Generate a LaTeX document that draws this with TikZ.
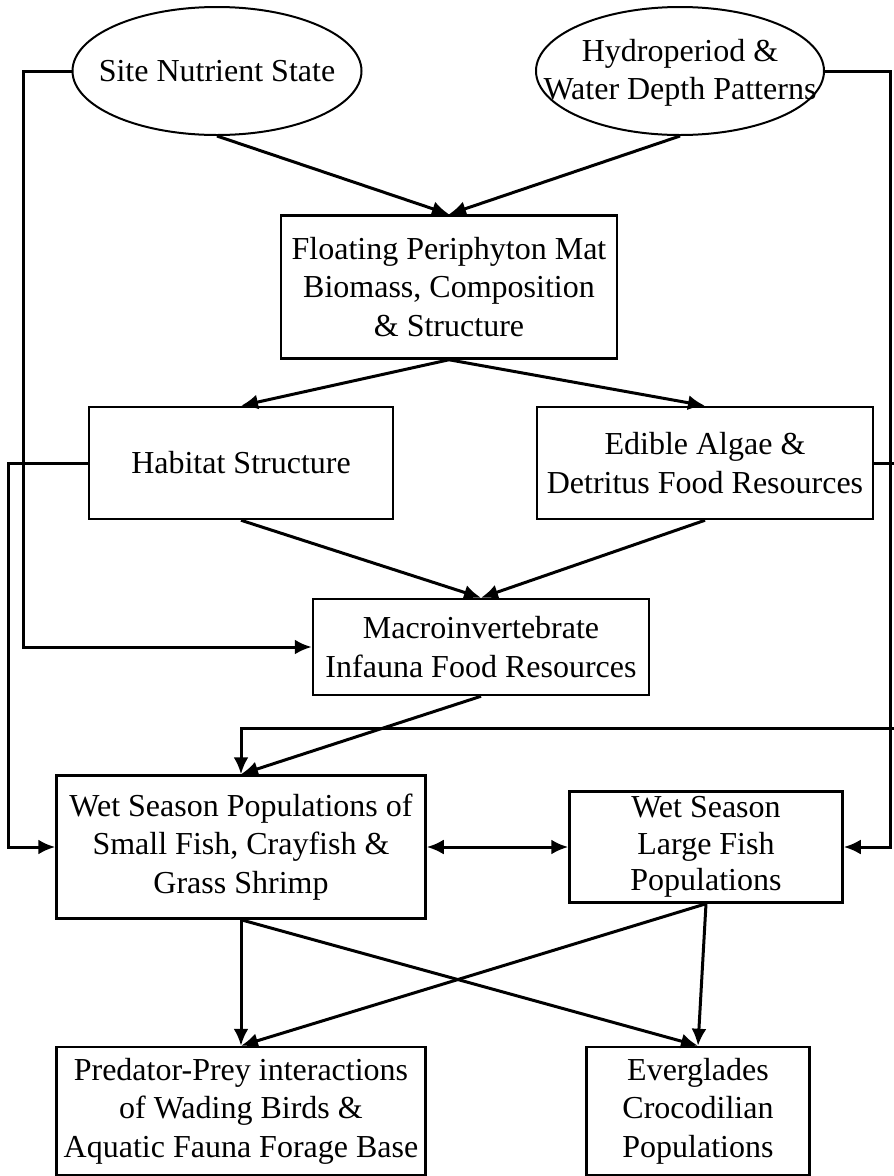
\documentclass[tikz,border=0pt]{standalone}
\usepackage{fontspec}
\setmainfont{Liberation Serif}
\usetikzlibrary{
    shapes.geometric,      % Ellipses for the drivers
    arrows.meta,           % Modern arrow tips
    calc                   % Coordinate calculations
}
\tikzset{
    driver/.style={draw,ellipse,line width=2pt,inner sep=0pt},
    drivertext/.style={inner sep=0pt,align=center,font=\fontsize{32}{38}\selectfont},
    factor/.style={draw,rectangle,line width=2.5pt,inner sep=0pt,align=center,
        font=\fontsize{32}{38.5}\selectfont},
    link/.style={line width=3pt,-{Latex[length=17pt,width=15pt]}},
    twoway/.style={line width=3pt,{Latex[length=17pt,width=15pt]}-{Latex[length=17pt,width=15pt]}}
}

\begin{document}
\begin{tikzpicture}[x=1pt,y=-1pt]
    \useasboundingbox (0,0) rectangle (894,1176);
    % drivers (text may run over the outline)
    \node[driver,minimum width=289pt,minimum height=128pt] (site) at (217,71) {};
    \node[drivertext] (sitetext) at (site) {Site Nutrient State};
    \node[driver,minimum width=288pt,minimum height=128pt] (hydro) at (680,71) {};
    \node[drivertext] (hydrotext) at (680,73) {Hydroperiod \&\\Water Depth Patterns};
    % boxes
    \node[factor,minimum width=336pt,minimum height=143pt] (mat) at (449,287) {Floating Periphyton Mat\\Biomass, Composition\\\& Structure};
    \node[factor,minimum width=304pt,minimum height=112pt] (habitat) at (241,463) {Habitat Structure};
    \node[factor,minimum width=336pt,minimum height=112pt] (algae) at (705,463) {Edible Algae \&\\Detritus Food Resources};
    \node[factor,minimum width=336pt,minimum height=96pt] (macro) at (481,647) {Macroinvertebrate\\Infauna Food Resources};
    \node[factor,minimum width=369pt,minimum height=143pt] (small) at (241,847) {Wet Season Populations of\\Small Fish, Crayfish \&\\Grass Shrimp};
    \node[factor,minimum width=273pt,minimum height=111pt,font=\fontsize{32}{36.5}\selectfont] (large) at (706,847) {Wet Season\\Large Fish\\Populations};
    \node[factor,minimum width=369pt,minimum height=128pt] (wading) at (241,1111) {Predator-Prey interactions\\of Wading Birds \&\\Aquatic Fauna Forage Base};
    \node[factor,minimum width=223pt,minimum height=128pt] (croc) at (698,1111) {Everglades\\Crocodilian\\Populations};

    % direct links
    \draw[link] (site.south) -- (mat.north);
    \draw[link] (hydro.south) -- (mat.north);
    \draw[link] (mat.south) -- (habitat.north);
    \draw[link] (mat.south) -- (algae.north);
    \draw[link] (habitat.south) -- (macro.north);
    \draw[link] (algae.south) -- (macro.north);
    \draw[link] (macro.south) -- (small.north);
    \draw[twoway] (small.east) -- (large.west);
    \draw[link] (small.south) -- (wading.north);
    \draw[link] (small.south) -- (croc.north);
    \draw[link] (large.south) -- (wading.north);
    \draw[link] (large.south) -- (croc.north);

    % routed links along the sides
    \draw[link] (site.west) -- ++(-48,0) |- (macro.west);
    \draw[link] (habitat.west) -- ++(-79,0) |- (small.west);
    \draw[link] (hydro.east) -- ++(65,0) |- (large.east);
    \draw[link] (algae.east) -- ++(30,0) -- ++(0,265) -| (small.north);
\end{tikzpicture}
\end{document}
